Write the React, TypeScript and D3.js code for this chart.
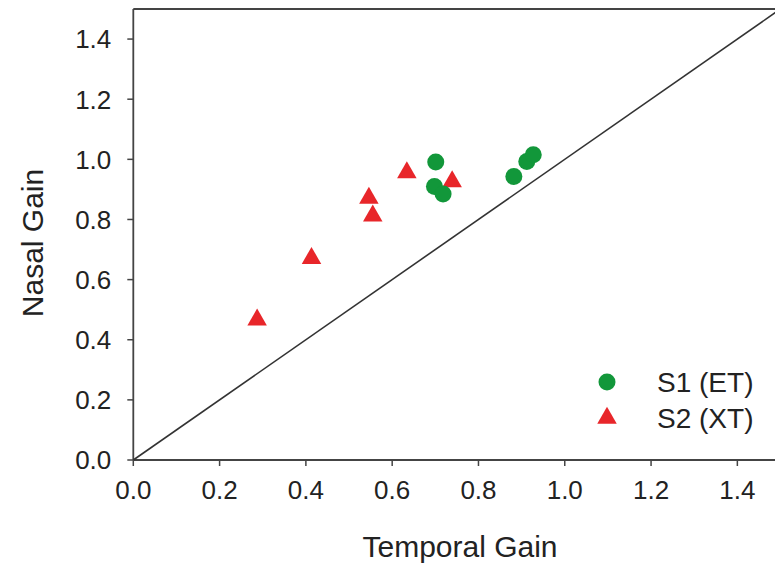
import React from 'react';
import * as d3 from 'd3';

// Values
const s1Temporal = [0.701, 0.698, 0.718, 0.882, 0.912, 0.927];
const s1Nasal = [0.991, 0.91, 0.885, 0.943, 0.993, 1.015];
const s2Temporal = [0.287, 0.413, 0.546, 0.555, 0.634, 0.739];
const s2Nasal = [0.466, 0.671, 0.871, 0.812, 0.956, 0.926];
const tickValues = [0, 0.2, 0.4, 0.6, 0.8, 1.0, 1.2, 1.4];
const seriesNames = ['S1 (ET)', 'S2 (XT)'];

const W = 775;
const H = 578;
const font = 'Arial, "Liberation Sans", Helvetica, sans-serif';
const green = '#12973a';
const red = '#e8262a';
const axisColor = '#444';
const textColor = '#222';

const x = d3.scaleLinear().domain([0, 1.5]).range([133.3, 780.5]);
const y = d3.scaleLinear().domain([0, 1.5]).range([460, 9]);

const triangle = d3.symbol().type(d3.symbolTriangle).size(165)();

export default function App() {
  const s1 = s1Temporal.map((t, i) => ({ t, n: s1Nasal[i] }));
  const s2 = s2Temporal.map((t, i) => ({ t, n: s2Nasal[i] }));
  const fmt = d3.format('.1f');

  return (
    <svg
      width={W}
      height={H}
      style={{ position: 'absolute', left: 0, top: 0, background: '#fff' }}
      fontFamily={font}
    >
      {/* frame: left, bottom, top */}
      <line x1={x(0)} x2={x(1.5)} y1={y(1.5)} y2={y(1.5)} stroke={axisColor} strokeWidth={1.8} />
      <line x1={x(0)} x2={x(0)} y1={y(0)} y2={y(1.5)} stroke={axisColor} strokeWidth={1.8} />
      <line x1={x(0)} x2={x(1.5)} y1={y(0)} y2={y(0)} stroke={axisColor} strokeWidth={1.8} />

      {/* identity line */}
      <line x1={x(0)} y1={y(0)} x2={x(1.5)} y2={y(1.5)} stroke="#333" strokeWidth={1.6} />

      {/* x ticks */}
      {tickValues.map(v => (
        <g key={'x' + v} transform={`translate(${x(v)},${y(0)})`}>
          <line y1={0} y2={6} stroke={axisColor} strokeWidth={1.5} />
          <text y={39} textAnchor="middle" fontSize={26} fill={textColor}>
            {fmt(v)}
          </text>
        </g>
      ))}

      {/* y ticks */}
      {tickValues.map(v => (
        <g key={'y' + v} transform={`translate(${x(0)},${y(v)})`}>
          <line x1={0} x2={-6} stroke={axisColor} strokeWidth={1.5} />
          <text x={-22} dy="0.36em" textAnchor="end" fontSize={26} fill={textColor}>
            {fmt(v)}
          </text>
        </g>
      ))}

      {/* axis titles */}
      <text x={460} y={557} textAnchor="middle" fontSize={30} fill={textColor}>
        Temporal Gain
      </text>
      <text
        transform={`translate(43,243) rotate(-90)`}
        textAnchor="middle"
        fontSize={30}
        fill={textColor}
      >
        Nasal Gain
      </text>

      {/* S2 triangles */}
      {s2.map((d, i) => (
        <path key={'t' + i} d={triangle} transform={`translate(${x(d.t)},${y(d.n)})`} fill={red} />
      ))}

      {/* S1 circles */}
      {s1.map((d, i) => (
        <circle key={'c' + i} cx={x(d.t)} cy={y(d.n)} r={8.5} fill={green} />
      ))}

      {/* legend */}
      <circle cx={607} cy={382} r={8.5} fill={green} />
      <path d={triangle} transform="translate(607,418)" fill={red} />
      <text x={657} y={382} dy="0.36em" fontSize={28} fill={textColor}>
        {seriesNames[0]}
      </text>
      <text x={657} y={418} dy="0.36em" fontSize={28} fill={textColor}>
        {seriesNames[1]}
      </text>
    </svg>
  );
}
